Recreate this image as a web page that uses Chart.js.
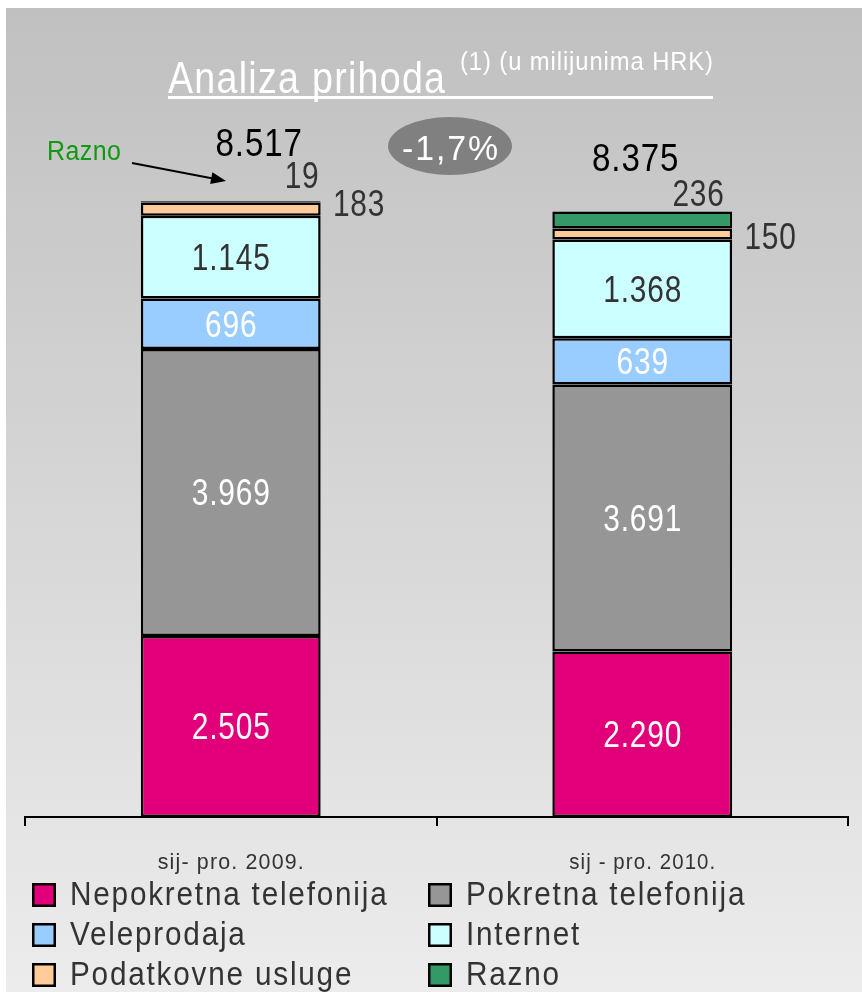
<!DOCTYPE html>
<html>
<head>
<meta charset="utf-8">
<script src="https://cdn.jsdelivr.net/npm/chart.js@4/dist/chart.umd.min.js"></script>
<style>
html, body { margin: 0; padding: 0; background: #fff; }
canvas { display: block; }
</style>
</head>
<body>
<canvas id="chart" width="862" height="992"></canvas>
<script>
// -------------------------------
// Daten (u milijunima HRK)
// -------------------------------
const categories = ["sij- pro. 2009.", "sij - pro. 2010."];
const seriesNames = ["Nepokretna telefonija", "Pokretna telefonija", "Veleprodaja", "Internet", "Podatkovne usluge", "Razno"];
const nepokretna = [2505, 2290];
const pokretna = [3969, 3691];
const veleprodaja = [696, 639];
const internet = [1145, 1368];
const podatkovne = [183, 150];
const razno = [19, 236];
const totals = [8517, 8375];
const changeLabel = "-1,7%";
const titleText = "Analiza prihoda";
const subtitleText = "(1) (u milijunima HRK)";

const colors = ["#e2007a", "#969696", "#99ccff", "#ccffff", "#ffcc99", "#339966"];
const insideColors = ["#ffffff", "#ffffff", "#ffffff", "#333333"];

// -------------------------------
// Helpers
// -------------------------------
function fmt(v) {
    return String(v).replace(/\B(?=(\d{3})+(?!\d))/g, ".");
}

function txt(ctx, s, x, y, o) {
    ctx.save();
    ctx.font = o.size + 'px "Liberation Sans", Arial, sans-serif';
    const ls = o.ls || 0;
    ctx.letterSpacing = ls + "px";
    const w = ctx.measureText(s).width - ls;
    const sx = o.w ? o.w / w : (o.sx || 1);
    const left = o.align === "left" ? x : x - w * sx / 2;
    ctx.translate(left, y);
    ctx.scale(sx, 1);
    ctx.fillStyle = o.color || "#333";
    ctx.textAlign = "left";
    ctx.textBaseline = "alphabetic";
    ctx.fillText(s, 0, 0);
    ctx.restore();
}

// -------------------------------
// Hintergrund
// -------------------------------
const bgPlugin = {
    id: "bg",
    beforeDraw(chart) {
        const ctx = chart.ctx;
        ctx.save();
        ctx.fillStyle = "#ffffff";
        ctx.fillRect(0, 0, chart.width, chart.height);
        const g = ctx.createLinearGradient(0, 8, 0, chart.height);
        g.addColorStop(0, "#c0c0c0");
        g.addColorStop(1, "#ececec");
        ctx.fillStyle = g;
        ctx.fillRect(6, 8, chart.width - 6, chart.height - 8);
        ctx.restore();
    }
};

// -------------------------------
// Beschriftungen, Legende, Titel
// -------------------------------
const valStyle = { size: 36, sx: 0.83, ls: 1 };
// Abstand der Aussen-Labels (Podatkovne / Razno / Summe) je Balken
const outPod = [{ dx: 38, dy: 7 }, { dx: 38, dy: 15 }];
const outRaz = [{ dx: -19, dy: -13 }, { dx: -34, dy: -6 }];
const outTot = [{ dx: 28, dy: -45 }, { dx: -7, dy: -41 }];

const labelPlugin = {
    id: "labels",
    afterDraw(chart) {
        const ctx = chart.ctx;
        const x = chart.scales.x;

        // Werte in den Segmenten
        for (let d = 0; d < 4; d++) {
            const meta = chart.getDatasetMeta(d);
            meta.data.forEach((el, i) => {
                const v = chart.data.datasets[d].data[i];
                const cy = (el.y + el.base) / 2 + 13;
                txt(ctx, fmt(v), el.x, cy, Object.assign({ color: insideColors[d] }, valStyle));
            });
        }

        // Podatkovne usluge (rechts neben dem Balken)
        chart.getDatasetMeta(4).data.forEach((el, i) => {
            const right = el.x + el.width / 2;
            const cy = (el.y + el.base) / 2;
            txt(ctx, fmt(podatkovne[i]), right + outPod[i].dx, cy + outPod[i].dy, Object.assign({ color: "#333" }, valStyle));
        });

        // Razno (ueber dem Balken)
        chart.getDatasetMeta(5).data.forEach((el, i) => {
            const right = el.x + el.width / 2;
            txt(ctx, fmt(razno[i]), right + outRaz[i].dx, el.y + outRaz[i].dy, Object.assign({ color: "#333" }, valStyle));
        });

        // Summen
        chart.getDatasetMeta(5).data.forEach((el, i) => {
            txt(ctx, fmt(totals[i]), el.x + outTot[i].dx, el.y + outTot[i].dy, { size: 39, sx: 0.85, ls: 1, color: "#000" });
        });

        // Kategorien unter der Achse
        categories.forEach((c, i) => {
            txt(ctx, c, x.getPixelForValue(i), 869, { size: 22, w: 146, ls: 1.2, color: "#333" });
        });

        // Veränderung in der Ellipse
        ctx.save();
        ctx.fillStyle = "#808080";
        ctx.beginPath();
        ctx.ellipse(450, 146, 62, 29, 0, 0, Math.PI * 2);
        ctx.fill();
        ctx.restore();
        txt(ctx, changeLabel, 450, 160, { size: 35, w: 96, ls: 2, color: "#fff" });

        // Titel
        txt(ctx, titleText, 168, 93, { size: 44, w: 277, ls: 1.5, color: "#fff", align: "left" });
        txt(ctx, subtitleText, 460, 70, { size: 26, w: 253, ls: 1, color: "#fff", align: "left" });
        ctx.save();
        ctx.fillStyle = "#fff";
        ctx.fillRect(168, 96, 545, 3);
        ctx.restore();

        // Razno Hinweis mit Pfeil
        txt(ctx, "Razno", 47, 160, { size: 27, w: 74, ls: 0.5, color: "#119911", align: "left" });
        const ax0 = 132, ay0 = 163, ax1 = 226, ay1 = 181;
        const ang = Math.atan2(ay1 - ay0, ax1 - ax0);
        ctx.save();
        ctx.strokeStyle = "#000";
        ctx.fillStyle = "#000";
        ctx.lineWidth = 2;
        ctx.beginPath();
        ctx.moveTo(ax0, ay0);
        ctx.lineTo(ax1 - 12 * Math.cos(ang), ay1 - 12 * Math.sin(ang));
        ctx.stroke();
        ctx.translate(ax1, ay1);
        ctx.rotate(ang);
        ctx.beginPath();
        ctx.moveTo(0, 0);
        ctx.lineTo(-15, -6);
        ctx.lineTo(-15, 6);
        ctx.closePath();
        ctx.fill();
        ctx.restore();

        // Legende (2 Spalten)
        seriesNames.forEach((name, i) => {
            const col = i % 2, row = Math.floor(i / 2);
            const bx = col === 0 ? 32 : 428;
            const by = 883 + row * 40;
            ctx.save();
            ctx.fillStyle = colors[i];
            ctx.fillRect(bx, by, 24, 24);
            ctx.strokeStyle = "#000";
            ctx.lineWidth = 2.5;
            ctx.strokeRect(bx + 1.25, by + 1.25, 21.5, 21.5);
            ctx.restore();
            txt(ctx, name, bx + 38, by + 22, { size: 33, sx: 0.9, ls: 2, color: "#333", align: "left" });
        });
    }
};

// -------------------------------
// Chart
// -------------------------------
const seriesData = [nepokretna, pokretna, veleprodaja, internet, podatkovne, razno];

new Chart(document.getElementById("chart"), {
    type: "bar",
    data: {
        labels: categories,
        datasets: seriesNames.map((n, i) => ({
            label: n,
            data: seriesData[i],
            backgroundColor: colors[i],
            borderColor: "#000",
            borderWidth: 2.5,
            borderSkipped: false,
            barPercentage: 0.437,
            categoryPercentage: 1
        }))
    },
    options: {
        responsive: false,
        animation: false,
        events: [],
        layout: { padding: { left: 25, right: 14, top: 94, bottom: 0 } },
        plugins: {
            legend: { display: false },
            tooltip: { enabled: false }
        },
        scales: {
            x: {
                stacked: true,
                grid: { offset: true, drawOnChartArea: false, drawTicks: true, tickLength: 9, color: "#000", lineWidth: 2 },
                border: { color: "#000", width: 2 },
                ticks: { display: false },
                afterFit: s => { s.height = 175; }
            },
            y: {
                stacked: true,
                display: false,
                min: 0,
                max: 10000
            }
        }
    },
    plugins: [bgPlugin, labelPlugin]
});
</script>
</body>
</html>
